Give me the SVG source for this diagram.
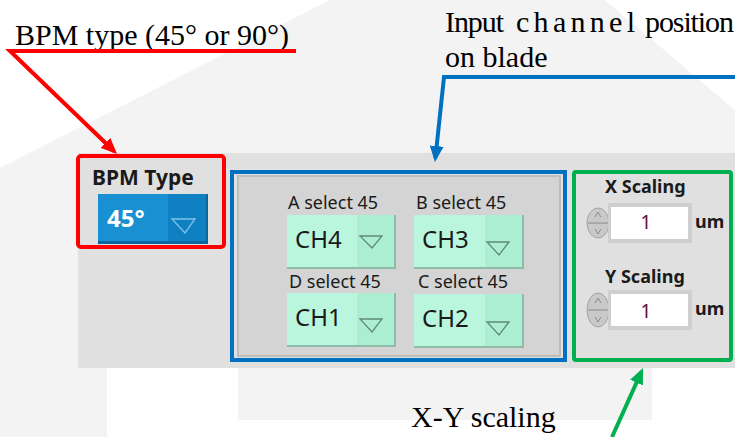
<svg xmlns="http://www.w3.org/2000/svg" width="735" height="437" viewBox="0 0 735 437">
<defs>
<style>
.note{font-family:"Liberation Serif","Times New Roman",serif;font-size:30px;fill:#000}
.ui{font-family:"Noto Sans","Liberation Sans",sans-serif;fill:#1a1a1a}
.lbl{font-size:18px}
.bold{font-weight:bold}
.ch{font-size:24px;fill:#1a1a1a}
.btn{fill:#baf6dd}
.btnr{fill:#aceed2}
.btnsh{fill:#8fbca8}
.tri{fill:none;stroke:#5f8a78;stroke-width:1.3}
.conn{fill:none;stroke-width:4;stroke-linejoin:miter}
.num{font-family:"Noto Sans","Liberation Sans",sans-serif;font-size:19px;fill:#5c0f38}
</style>
<marker id="ar" viewBox="0 0 16 14" refX="12" refY="7" markerWidth="16" markerHeight="14" markerUnits="userSpaceOnUse" orient="auto"><path d="M0,0 L16,7 L0,14 z" fill="#ff0000"/></marker>
<marker id="ab" viewBox="0 0 16 14" refX="12" refY="7" markerWidth="16" markerHeight="14" markerUnits="userSpaceOnUse" orient="auto"><path d="M0,0 L16,7 L0,14 z" fill="#0070c0"/></marker>
<marker id="ag" viewBox="0 0 16 14" refX="12" refY="7" markerWidth="16" markerHeight="14" markerUnits="userSpaceOnUse" orient="auto"><path d="M0,0 L16,7 L0,14 z" fill="#00b050"/></marker>
</defs>

<!-- background -->
<rect x="0" y="0" width="735" height="437" fill="#ffffff"/>
<polygon points="0,168 330,0 605,0 735,110 735,153 78,153 78,368 107,368 107,437 0,437" fill="#f3f3f3"/>
<rect x="238" y="368" width="414" height="52" fill="#f3f3f3"/>

<!-- front panel -->
<rect x="78" y="153" width="657" height="215" fill="#e0e0e0"/>

<!-- BPM Type -->
<g id="bpm-type">
<rect x="78" y="156" width="146" height="91" rx="3" fill="none" stroke="#ff0000" stroke-width="4"/>
<text class="ui bold" x="92" y="185" font-size="21">BPM Type</text>
<rect x="98" y="194" width="110" height="50" fill="#0b66a0"/>
<rect x="98" y="194" width="108" height="47" fill="#1890d2"/>
<rect x="168" y="194" width="38" height="47" fill="#0f80c2"/>
<text class="ui bold" x="107" y="227" font-size="24" style="fill:#ffffff">45°</text>
<path d="M172,219 L195,219 L185,233 Z" fill="none" stroke="#7fc3ea" stroke-width="1.3"/>
</g>

<!-- channel selection -->
<g id="channel-select">
<rect x="232" y="172" width="333" height="188" fill="none" stroke="#0070c0" stroke-width="4"/>
<rect x="238" y="176" width="322" height="180" fill="#d4d4d4" stroke="#bdbdbd" stroke-width="2"/>

<g id="a-select">
<text class="ui lbl" x="288" y="209">A select 45</text>
<rect class="btnsh" x="287" y="215" width="109" height="54"/>
<rect class="btn" x="287" y="215" width="107" height="52"/>
<rect class="btnr" x="357" y="215" width="37" height="52"/>
<text class="ui ch" x="295" y="248">CH4</text>
<path class="tri" d="M360,236 L382,236 L372,248 Z"/>
</g>
<g id="b-select">
<text class="ui lbl" x="416" y="209">B select 45</text>
<rect class="btnsh" x="414" y="215" width="110" height="54"/>
<rect class="btn" x="414" y="215" width="108" height="52"/>
<rect class="btnr" x="485" y="215" width="37" height="52"/>
<text class="ui ch" x="422" y="248">CH3</text>
<path class="tri" d="M487,242 L509,242 L499,255 Z"/>
</g>
<g id="d-select">
<text class="ui lbl" x="289" y="288">D select 45</text>
<rect class="btnsh" x="287" y="293" width="109" height="54"/>
<rect class="btn" x="287" y="293" width="107" height="52"/>
<rect class="btnr" x="357" y="293" width="37" height="52"/>
<text class="ui ch" x="295" y="326">CH1</text>
<path class="tri" d="M360,319 L382,319 L372,332 Z"/>
</g>
<g id="c-select">
<text class="ui lbl" x="418" y="288">C select 45</text>
<rect class="btnsh" x="414" y="294" width="110" height="54"/>
<rect class="btn" x="414" y="294" width="108" height="52"/>
<rect class="btnr" x="485" y="294" width="37" height="52"/>
<text class="ui ch" x="422" y="327">CH2</text>
<path class="tri" d="M487,322 L509,322 L499,335 Z"/>
</g>
</g>

<!-- scaling -->
<g id="xy-scaling">
<rect x="574" y="172" width="157" height="188" rx="2" fill="none" stroke="#00b050" stroke-width="4"/>
<g id="x-scaling">
<text class="ui bold lbl" x="605" y="193">X Scaling</text>
<ellipse cx="598" cy="223" rx="11" ry="15" fill="#c9c9c9" stroke="#a3a3a3" stroke-width="1"/>
<path d="M588,223 H608 M595,217 L598,212 L601,217 M595,229 L598,234 L601,229" fill="none" stroke="#8a8a8a" stroke-width="1"/>
<rect x="608" y="203" width="84" height="40" fill="#cfcfcf"/>
<rect x="611" y="207" width="77" height="32" fill="#ffffff"/>
<text class="num" x="646" y="229" text-anchor="middle">1</text>
<text class="ui bold lbl" x="695" y="228">um</text>
</g>
<g id="y-scaling">
<text class="ui bold lbl" x="605" y="283">Y Scaling</text>
<ellipse cx="598" cy="310" rx="11" ry="17" fill="#c9c9c9" stroke="#a3a3a3" stroke-width="1"/>
<path d="M588,310 H608 M595,303 L598,298 L601,303 M595,317 L598,322 L601,317" fill="none" stroke="#8a8a8a" stroke-width="1"/>
<rect x="608" y="290" width="84" height="40" fill="#cfcfcf"/>
<rect x="611" y="294" width="77" height="32" fill="#ffffff"/>
<text class="num" x="646" y="318" text-anchor="middle">1</text>
<text class="ui bold lbl" x="695" y="315">um</text>
</g>
</g>

<!-- annotations -->
<g id="note-bpm"><text class="note" x="15" y="45">BPM type (45° or 90°)</text></g>
<g id="note-input">
<text class="note" x="445" y="32" textLength="59">Input</text>
<text class="note" x="516" y="32" textLength="119">channel</text>
<text class="note" x="645" y="32" textLength="89">position</text>
<text class="note" x="445" y="67">on blade</text>
</g>
<g id="note-xy"><text class="note" x="411" y="427">X-Y scaling</text></g>

<!-- connectors -->
<g id="connectors">
<polyline class="conn" points="296,51 10,51 114.1,151.2" stroke="#ff0000" marker-end="url(#ar)"/>
<polyline class="conn" points="735,77 444,77 435.4,158" stroke="#0070c0" marker-end="url(#ab)"/>
<line class="conn" x1="612" y1="437" x2="641.4" y2="371.7" stroke="#00b050" marker-end="url(#ag)"/>
</g>
</svg>
